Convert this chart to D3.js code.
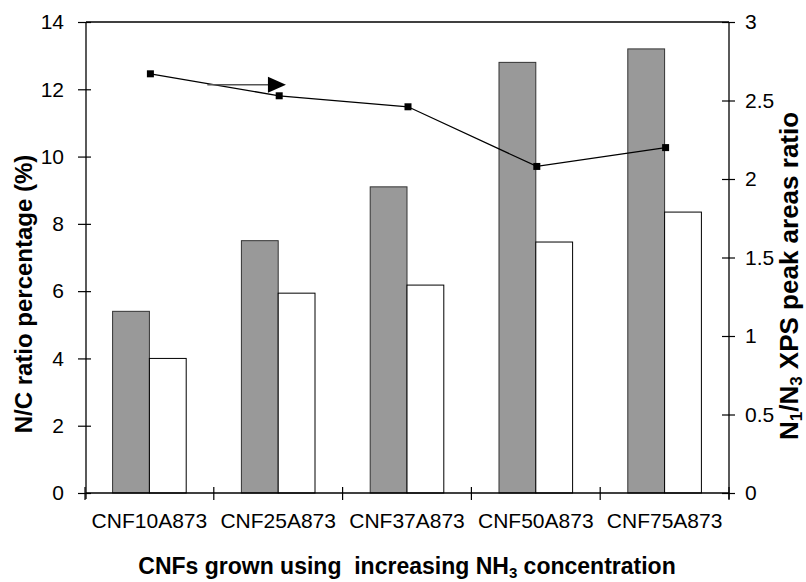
<!DOCTYPE html>
<html>
<head>
<meta charset="utf-8">
<script src="https://cdn.jsdelivr.net/npm/d3@7"></script>
<style>
  body { margin: 0; background: #fff; }
  svg { font-family: "Liberation Sans", Arial, sans-serif; }
</style>
</head>
<body>
<div id="chart"></div>
<script>
// chart values
const samples = ["CNF10A873", "CNF25A873", "CNF37A873", "CNF50A873", "CNF75A873"]
const ncGrey = [5.4, 7.5, 9.1, 12.8, 13.2]
const ncWhite = [4.0, 5.94, 6.18, 7.46, 8.35]
const peakRatio = [2.67, 2.53, 2.46, 2.08, 2.20]
const leftTicks = [0, 2, 4, 6, 8, 10, 12, 14]
const rightTicks = [0, 0.5, 1, 1.5, 2, 2.5, 3]

const width = 806
const height = 582
const m = { left: 86, right: 729, top: 22, bottom: 493 }

const svg = d3.select("#chart")
    .append("svg")
    .attr("width", width)
    .attr("height", height)

const x = d3.scaleBand()
    .domain(samples)
    .range([m.left - 1, m.right])
    .padding(0)

const inner = d3.scaleBand()
    .domain(["grey", "white"])
    .range([0, x.bandwidth()])
    .paddingInner(0)
    .paddingOuter(0.75)

const yLeft = d3.scaleLinear().domain([0, 14]).range([m.bottom, m.top])
const yRight = d3.scaleLinear().domain([0, 3]).range([m.bottom, m.top])

// bars
const rows = samples.map((s, i) => ({ s: s, grey: ncGrey[i], white: ncWhite[i] }))

svg.append("g")
    .selectAll("rect")
    .data(rows)
    .enter()
    .append("rect")
    .attr("x", d => x(d.s) + inner("grey"))
    .attr("y", d => yLeft(d.grey))
    .attr("width", inner.bandwidth())
    .attr("height", d => yLeft(0) - yLeft(d.grey))
    .attr("fill", "#999999")
    .attr("stroke", "#333")
    .attr("stroke-width", 1)

svg.append("g")
    .selectAll("rect")
    .data(rows)
    .enter()
    .append("rect")
    .attr("x", d => x(d.s) + inner("white"))
    .attr("y", d => yLeft(d.white))
    .attr("width", inner.bandwidth())
    .attr("height", d => yLeft(0) - yLeft(d.white))
    .attr("fill", "#fff")
    .attr("stroke", "#000")
    .attr("stroke-width", 1)

// axes
const leftAxis = svg.append("g")
    .attr("transform", `translate(${m.left},0)`)
    .call(d3.axisLeft(yLeft).tickValues(leftTicks).tickSize(8).tickPadding(14))
leftAxis.selectAll(".tick line").attr("x2", -8).attr("x1", 5)

const rightAxis = svg.append("g")
    .attr("transform", `translate(${m.right},0)`)
    .call(d3.axisRight(yRight).tickValues(rightTicks).tickFormat(d => d).tickSize(6).tickPadding(10))
rightAxis.selectAll(".tick line").attr("x1", -7).attr("x2", 6)

const bottomAxis = svg.append("g")
    .attr("transform", `translate(0,${m.bottom})`)
    .call(d3.axisBottom(x).tickSize(0).tickPadding(20))
bottomAxis.selectAll(".tick line").remove()

// category boundary ticks on the x axis
const bounds = samples.map(s => x(s)).concat([x(samples[samples.length - 1]) + x.bandwidth()])
svg.append("g")
    .selectAll("line")
    .data(bounds)
    .enter()
    .append("line")
    .attr("x1", d => d).attr("x2", d => d)
    .attr("y1", m.bottom - 6).attr("y2", m.bottom + 7)
    .attr("stroke", "#000")
    .attr("stroke-width", 1.2)

svg.selectAll(".domain").remove()
const frame = svg.append("g").attr("stroke", "#000").attr("stroke-width", 1.3)
frame.append("line").attr("x1", m.left).attr("x2", m.left).attr("y1", m.top).attr("y2", m.bottom + 6)
frame.append("line").attr("x1", m.right).attr("x2", m.right).attr("y1", m.top).attr("y2", m.bottom + 6)
frame.append("line").attr("x1", m.left).attr("x2", m.right).attr("y1", m.bottom).attr("y2", m.bottom)
frame.append("line").attr("x1", m.left).attr("x2", m.right).attr("y1", m.top).attr("y2", m.top)

svg.selectAll(".tick text")
    .attr("font-size", 21)
    .attr("font-family", "Liberation Sans, Arial, sans-serif")
    .attr("fill", "#000")
svg.selectAll(".tick line").attr("stroke", "#000").attr("stroke-width", 1.2)

// line series on the right axis
const pts = samples.map((s, i) => ({ s: s, v: peakRatio[i] }))
const line = d3.line()
    .x(d => x(d.s) + x.bandwidth() / 2 + 1)
    .y(d => yRight(d.v))

svg.append("path")
    .datum(pts)
    .attr("d", line)
    .attr("fill", "none")
    .attr("stroke", "#000")
    .attr("stroke-width", 1.3)

svg.append("g")
    .selectAll("rect")
    .data(pts)
    .enter()
    .append("rect")
    .attr("x", d => x(d.s) + x.bandwidth() / 2 + 1 - 3.5)
    .attr("y", d => yRight(d.v) - 3.5)
    .attr("width", 7)
    .attr("height", 7)
    .attr("fill", "#000")

// arrow pointing the line to the right axis
const arrowY = yRight(2.6)
const arrowX0 = x(samples[0]) + x.bandwidth() * 0.95
const arrowX1 = x(samples[1]) + x.bandwidth() * 0.56
svg.append("line")
    .attr("x1", arrowX0).attr("x2", arrowX1 - 17)
    .attr("y1", arrowY).attr("y2", arrowY)
    .attr("stroke", "#555")
    .attr("stroke-width", 1.5)
svg.append("path")
    .attr("d", `M${arrowX1 - 18},${arrowY - 8} L${arrowX1},${arrowY} L${arrowX1 - 18},${arrowY + 8} Z`)
    .attr("fill", "#000")

// titles
svg.append("text")
    .attr("transform", `translate(32,294) rotate(-90)`)
    .attr("text-anchor", "middle")
    .attr("font-size", 24)
    .attr("font-weight", "bold")
    .text("N/C ratio percentage (%)")

const rt = svg.append("text")
    .attr("transform", `translate(798,276) rotate(-90)`)
    .attr("text-anchor", "middle")
    .attr("font-size", 26)
    .attr("font-weight", "bold")
rt.append("tspan").text("N")
rt.append("tspan").attr("font-size", 17).attr("dy", 4).text("1")
rt.append("tspan").attr("dy", -4).text("/N")
rt.append("tspan").attr("font-size", 17).attr("dy", 4).text("3")
rt.append("tspan").attr("dy", -4).text(" XPS peak areas ratio")

const xt = svg.append("text")
    .attr("x", 407)
    .attr("y", 574)
    .attr("text-anchor", "middle")
    .attr("font-size", 23)
    .attr("font-weight", "bold")
    .style("white-space", "pre")
xt.append("tspan").text("CNFs grown using  increasing NH")
xt.append("tspan").attr("font-size", 15).attr("dy", 4).text("3")
xt.append("tspan").attr("dy", -4).text(" concentration")
</script>
</body>
</html>
